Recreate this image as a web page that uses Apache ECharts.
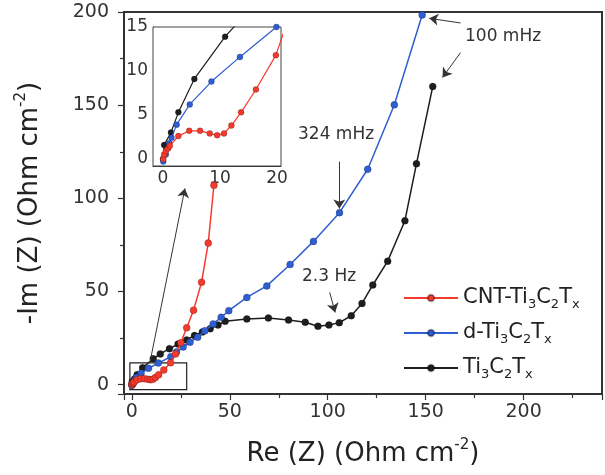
<!DOCTYPE html>
<html style="height: 100%">
<head>
    <meta charset="utf-8">
</head>
<body style="height: 100%; margin: 0; background: #fff">
    <div id="container" style="width: 605px; height: 475px"></div>
    <script type="text/javascript" src="https://cdn.jsdelivr.net/npm/echarts@6/dist/echarts.min.js"></script>
    <script type="text/javascript">
        // CNT-Ti3C2Tx
        var redRe = [0.05, 0.2, 0.5, 0.9, 1.2, 2.7, 4.6, 6.5, 8.2, 9.5, 10.7, 12.0, 13.7, 16.3, 19.8, 22.3, 25, 28, 31.5, 35.6, 39, 41.9];
        var redIm = [0, 0.5, 0.9, 1.2, 1.5, 2.6, 3.2, 3.2, 2.9, 2.7, 2.9, 3.8, 5.3, 7.9, 11.8, 16.5, 22.5, 30.5, 40, 55, 76, 107];
        // d-Ti3C2Tx
        var blueRe = [0.05, 0.5, 1.1, 1.5, 2.4, 4.7, 8.5, 13.5, 19.9, 22.8, 26.2, 29.7, 33.6, 37.3, 41.5, 45.6, 49.5, 58.7, 68.9, 80.8, 92.7, 106, 120.4, 134, 148.2];
        var blueIm = [-0.3, 0.5, 1.8, 2.4, 3.9, 6.2, 8.8, 11.6, 15, 17.6, 20.2, 22.8, 25.5, 29, 32.6, 36.2, 39.7, 46.8, 53, 64.5, 76.9, 92.3, 115.6, 150.2, 198.4];
        // Ti3C2Tx
        var blackRe = [0, 0.2, 1.4, 2.7, 5.5, 10.9, 14.5, 19.2, 23.6, 28, 32, 36, 40, 44, 47.6, 58.7, 69.7, 80, 88.5, 95, 100.6, 105.9, 112, 117.5, 123, 130.6, 139.4, 145.3, 153.6];
        var blackIm = [0, 1.6, 3, 5.3, 9.1, 13.9, 16.5, 19.3, 21.8, 24, 26.4, 28.3, 30, 32, 34, 35.3, 35.8, 34.7, 33.5, 31.4, 32, 33.3, 37, 43.6, 53.5, 66.3, 88, 118.6, 160];

        var seriesNames = ['CNT-Ti3C2Tx', 'd-Ti3C2Tx', 'Ti3C2Tx'];
        var legendLabels = {
            'CNT-Ti3C2Tx': 'CNT-Ti{s|3}C{s|2}T{s|x}',
            'd-Ti3C2Tx': 'd-Ti{s|3}C{s|2}T{s|x}',
            'Ti3C2Tx': 'Ti{s|3}C{s|2}T{s|x}'
        };
        var colors = ['#f53a2c', '#2f5ed2', '#1e1e1e'];

        function pairs(xs, ys) {
            return xs.map(function (x, i) { return [x, ys[i]]; });
        }
        var seriesData = [pairs(redRe, redIm), pairs(blueRe, blueIm), pairs(blackRe, blackIm)];

        var font = 'DejaVu Sans';
        var dom = document.getElementById('container');
        var myChart = echarts.init(dom);

        var series = [];
        // main plot + inset, same data
        [0, 1].forEach(function (g) {
            seriesNames.forEach(function (name, i) {
                series.push({
                    name: name,
                    type: 'line',
                    xAxisIndex: g,
                    yAxisIndex: g,
                    data: seriesData[i],
                    symbol: 'circle',
                    symbolSize: g === 0 ? 7 : 6,
                    showAllSymbol: true,
                    clip: true,
                    lineStyle: { color: colors[i], width: g === 0 ? 1.5 : 1.2 },
                    itemStyle: { color: colors[i], borderColor: 'rgba(0,0,0,0.35)', borderWidth: 0.6 },
                    z: (g === 0 ? 3 : 12) - i
                });
            });
        });

        // arrows and zoom box, in data coordinates of the main plot
        series[2].markLine = {
            silent: true,
            symbol: ['none', 'arrow'],
            symbolSize: 9,
            label: { show: false },
            lineStyle: { color: '#333', width: 1, type: 'solid' },
            data: [
                [{ coord: [167.8, 194.1] }, { coord: [151.8, 196.6] }],
                [{ coord: [167.8, 178.2] }, { coord: [158.6, 164.9] }],
                [{ coord: [105.9, 119.7] }, { coord: [105.9, 94.5] }],
                [{ coord: [101, 49.5] }, { coord: [103.8, 38.8] }],
                [{ coord: [9.2, 11.7] }, { coord: [27.1, 105.3] }]
            ]
        };
        series[2].markArea = {
            silent: true,
            itemStyle: { color: 'rgba(0,0,0,0)', borderColor: '#222', borderWidth: 1.2 },
            data: [[{ coord: [-1, -2.7] }, { coord: [28, 11.7] }]]
        };

        var tickStyle = { color: '#333', width: 1.2 };
        var titleStyle = {
            fontSize: 26, color: '#222', lineHeight: 32,
            rich: { sup: { fontSize: 15, lineHeight: 15, verticalAlign: 'top', color: '#222' } }
        };

        option = {
            animation: false,
            textStyle: { fontFamily: font },
            grid: [{
                left: 124, right: 3, top: 12, bottom: 78,
                show: true, borderColor: '#333', borderWidth: 2
            }, {
                left: 153, right: 324, top: 27, bottom: 309,
                show: true, borderColor: '#444', borderWidth: 1, backgroundColor: '#fff', z: 5
            }],
            xAxis: [{
                gridIndex: 0,
                type: 'value',
                min: -4,
                max: 240,
                splitNumber: 5,
                axisLine: { onZero: false, lineStyle: { color: '#333', width: 1.5 } },
                axisTick: { show: true, length: 6, lineStyle: tickStyle },
                minorTick: { show: true, splitNumber: 2, length: 4, lineStyle: tickStyle },
                splitLine: { show: false },
                axisLabel: { fontSize: 19, color: '#333', margin: 9, showMinLabel: false, showMaxLabel: false },
                name: 'Re (Z) (Ohm cm{sup|-2})',
                nameLocation: 'middle',
                nameGap: 44,
                nameTextStyle: titleStyle
            }, {
                gridIndex: 1,
                type: 'value',
                min: -1.75,
                max: 20.7,
                splitNumber: 2,
                axisLine: { onZero: false, lineStyle: { color: '#333', width: 1 } },
                axisTick: { show: false },
                splitLine: { show: false },
                axisLabel: { fontSize: 17, color: '#333', margin: 4, showMinLabel: false, showMaxLabel: false }
            }],
            yAxis: [{
                gridIndex: 0,
                type: 'value',
                min: -5,
                max: 200,
                splitNumber: 4,
                axisLine: { onZero: false, lineStyle: { color: '#333', width: 1.5 } },
                axisTick: { show: true, length: 6, lineStyle: tickStyle },
                minorTick: { show: true, splitNumber: 2, length: 4, lineStyle: tickStyle },
                splitLine: { show: false },
                axisLabel: { fontSize: 19, color: '#333', margin: 15, showMinLabel: false, showMaxLabel: true },
                name: '-Im (Z) (Ohm cm{sup|-2})',
                nameLocation: 'middle',
                nameGap: 78,
                nameTextStyle: titleStyle
            }, {
                gridIndex: 1,
                type: 'value',
                min: -0.8,
                max: 15,
                splitNumber: 3,
                axisLine: { onZero: false, lineStyle: { color: '#333', width: 1 } },
                axisTick: { show: false },
                splitLine: { show: false },
                axisLabel: { fontSize: 17, color: '#333', margin: 5, showMinLabel: false, showMaxLabel: true }
            }],
            legend: {
                data: seriesNames,
                orient: 'vertical',
                left: 403,
                top: 285,
                padding: 0,
                itemWidth: 54,
                itemHeight: 8,
                itemGap: 9,
                selectedMode: false,
                formatter: function (n) { return legendLabels[n]; },
                textStyle: {
                    fontSize: 21, color: '#222', lineHeight: 26,
                    rich: { s: { fontSize: 13, lineHeight: 13, verticalAlign: 'bottom', color: '#222' } }
                }
            },
            graphic: [
                { type: 'text', left: 465, top: 28, style: { text: '100 mHz', font: '17px "DejaVu Sans"', fill: '#333' } },
                { type: 'text', left: 298, top: 126, style: { text: '324 mHz', font: '17px "DejaVu Sans"', fill: '#333' } },
                { type: 'text', left: 302, top: 268, style: { text: '2.3 Hz', font: '17px "DejaVu Sans"', fill: '#333' } }
            ],
            series: series
        };
        myChart.setOption(option, true);
    </script>
</body>
</html>
